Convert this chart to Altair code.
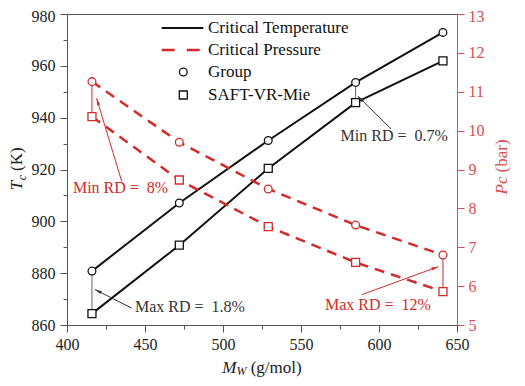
import math
import altair as alt
import pandas as pd

# ---------------- data ----------------
mw = [416, 472, 529, 585, 641]
tc_group = [880.8, 907.1, 931.2, 953.6, 972.9]
tc_saft = [864.4, 890.8, 920.4, 945.8, 961.9]
pc_group = [11.26, 9.70, 8.50, 7.57, 6.80]
pc_saft = [10.36, 8.73, 7.53, 6.61, 5.86]

x_ticks = list(range(400, 651, 25))
tc_ticks = list(range(860, 981, 10))
pc_ticks = [5 + 0.5 * i for i in range(17)]

legend_labels = ["Critical Temperature", "Critical Pressure", "Group", "SAFT-VR-Mie"]

# annotations (data coordinates)
tc_conn_idx = [0, 3]
pc_conn_idx = [0, 4]

tc_notes = ["Max RD =\u00a0\u00a01.8%", "Min RD =\u00a0\u00a00.7%"]
tc_note_x = [443.6, 575.4]
tc_note_y = [867.0, 932.9]
tc_arrow_x = [441.5, 607.7]
tc_arrow_y = [866.5, 935.6]
tc_arrow_x2 = [417.9, 586.5]
tc_arrow_y2 = [873.7, 948.3]

pc_notes = ["Min RD =\u00a0\u00a08%", "Max RD =\u00a0\u00a012%"]
pc_note_x = [403.8, 565.4]
pc_note_y = [8.53, 5.52]
pc_arrow_x = [435.1, 588.9]
pc_arrow_y = [8.69, 5.78]
pc_arrow_x2 = [419.0, 638.0]
pc_arrow_y2 = [10.83, 6.50]

# ---------------- styling ----------------
W, H = 390, 311
BLACK = "#111111"
RED = "#d42a2a"
AXRED = "#d85050"
AXGRAY = "#555555"
FONT = "Liberation Serif, Times New Roman, serif"

xs = alt.Scale(domain=[400, 650], nice=False, zero=False)
ts = alt.Scale(domain=[860, 980], nice=False, zero=False)
ps = alt.Scale(domain=[5, 13], nice=False, zero=False)

xaxis = alt.Axis(
    values=x_ticks, orient="bottom", title=None, grid=False,
    labelExpr="datum.value % 50 == 0 ? datum.label : ''",
    tickSize={"condition": {"test": "datum.value % 50 != 0", "value": 4}, "value": 7},
    domainColor=AXGRAY, tickColor=AXGRAY, labelColor="#222222",
    labelFont=FONT, labelFontSize=16, labelPadding=4, labelFlush=False,
)
tc_axis = alt.Axis(
    values=tc_ticks, orient="left", title=None, grid=False,
    labelExpr="datum.value % 20 == 0 ? datum.label : ''",
    tickSize={"condition": {"test": "datum.value % 20 != 0", "value": 4}, "value": 7},
    labelOffset={"condition": {"test": "datum.value == 980", "value": 2}, "value": 0},
    domainColor=AXGRAY, tickColor=AXGRAY, labelColor="#222222",
    labelFont=FONT, labelFontSize=16, labelPadding=5, labelFlush=False,
)
pc_axis = alt.Axis(
    values=pc_ticks, orient="right", title=None, grid=False, format="d",
    labelExpr="datum.value % 1 == 0 ? datum.label : ''",
    tickSize={"condition": {"test": "datum.value % 1 != 0", "value": 4}, "value": 7},
    labelOffset={"condition": {"test": "datum.value == 13", "value": 2}, "value": 0},
    domainColor=AXRED, tickColor=AXRED, labelColor=AXRED,
    labelFont=FONT, labelFontSize=16, labelPadding=4, labelFlush=False,
)

X = alt.X("mw:Q", scale=xs, axis=xaxis)


def angles(x1, y1, x2, y2, yrange):
    out = []
    for a, b, c, d in zip(x1, y1, x2, y2):
        dx = (c - a) * W / 250.0
        dy = -(d - b) * H / yrange
        out.append(math.degrees(math.atan2(dx, -dy)) % 360)
    return out


# ---------------- frames ----------------
df_tc = pd.DataFrame({"mw": mw * 2, "v": tc_group + tc_saft,
                      "s": ["Group"] * 5 + ["SAFT"] * 5})
df_pc = pd.DataFrame({"mw": mw * 2, "v": pc_group + pc_saft,
                      "s": ["Group"] * 5 + ["SAFT"] * 5})
df_tcg = pd.DataFrame({"mw": mw, "v": tc_group})
df_tcs = pd.DataFrame({"mw": mw, "v": tc_saft})
df_pcg = pd.DataFrame({"mw": mw, "v": pc_group})
df_pcs = pd.DataFrame({"mw": mw, "v": pc_saft})

df_tc_conn = pd.DataFrame({"mw": [mw[i] for i in tc_conn_idx],
                           "v": [tc_group[i] for i in tc_conn_idx],
                           "v2": [tc_saft[i] for i in tc_conn_idx]})
df_pc_conn = pd.DataFrame({"mw": [mw[i] for i in pc_conn_idx],
                           "v": [pc_group[i] for i in pc_conn_idx],
                           "v2": [pc_saft[i] for i in pc_conn_idx]})

df_tc_arrow = pd.DataFrame({"mw": tc_arrow_x, "v": tc_arrow_y, "mw2": tc_arrow_x2, "v2": tc_arrow_y2,
                            "ang": angles(tc_arrow_x, tc_arrow_y, tc_arrow_x2, tc_arrow_y2, 120.0)})
df_pc_arrow = pd.DataFrame({"mw": pc_arrow_x, "v": pc_arrow_y, "mw2": pc_arrow_x2, "v2": pc_arrow_y2,
                            "ang": angles(pc_arrow_x, pc_arrow_y, pc_arrow_x2, pc_arrow_y2, 8.0)})
df_tc_note = pd.DataFrame({"mw": tc_note_x, "v": tc_note_y, "t": tc_notes})
df_pc_note = pd.DataFrame({"mw": pc_note_x, "v": pc_note_y, "t": pc_notes})

one = pd.DataFrame({"a": [0]})


def YT(axis=None):
    return alt.Y("v:Q", scale=ts, axis=axis)


def YP(axis=None):
    return alt.Y("v:Q", scale=ps, axis=axis)


ARROW = "M0,0L0.5,2.2L-0.5,2.2Z"

layers = []
# connectors
layers.append(alt.Chart(df_tc_conn).mark_rule(color="#666666", strokeWidth=1).encode(
    x=X, y=YT(), y2="v2:Q"))
layers.append(alt.Chart(df_pc_conn).mark_rule(color=RED, strokeWidth=1).encode(
    x=X, y=YP(), y2="v2:Q"))
# lines
layers.append(alt.Chart(df_tc).mark_line(color=BLACK, strokeWidth=2).encode(
    x=X, y=YT(tc_axis), detail="s:N"))
layers.append(alt.Chart(df_pc).mark_line(color=RED, strokeWidth=2.5, strokeDash=[10, 7]).encode(
    x=X, y=YP(pc_axis), detail="s:N"))
# arrows
layers.append(alt.Chart(df_tc_arrow).mark_rule(color="#333333", strokeWidth=1).encode(
    x=X, y=YT(), x2="mw2:Q", y2="v2:Q"))
layers.append(alt.Chart(df_pc_arrow).mark_rule(color=RED, strokeWidth=1).encode(
    x=X, y=YP(), x2="mw2:Q", y2="v2:Q"))
# markers
mk = dict(filled=True, fill="white", strokeWidth=1.3, opacity=1, fillOpacity=1)
layers.append(alt.Chart(df_tcg).mark_point(shape="circle", size=60, stroke=BLACK, **mk).encode(x=X, y=YT()))
layers.append(alt.Chart(df_tcs).mark_point(shape="square", size=64, stroke=BLACK, **mk).encode(x=X, y=YT()))
layers.append(alt.Chart(df_pcg).mark_point(shape="circle", size=60, stroke=RED, **mk).encode(x=X, y=YP()))
layers.append(alt.Chart(df_pcs).mark_point(shape="square", size=64, stroke=RED, **mk).encode(x=X, y=YP()))
# arrow heads
layers.append(alt.Chart(df_tc_arrow).mark_point(shape=ARROW, size=40, filled=True, color="#333333", opacity=1).encode(
    x=alt.X("mw2:Q", scale=xs, axis=xaxis), y=alt.Y("v2:Q", scale=ts, axis=None),
    angle=alt.Angle("ang:Q", scale=None)))
layers.append(alt.Chart(df_pc_arrow).mark_point(shape=ARROW, size=40, filled=True, color=RED, opacity=1).encode(
    x=alt.X("mw2:Q", scale=xs, axis=xaxis), y=alt.Y("v2:Q", scale=ps, axis=None),
    angle=alt.Angle("ang:Q", scale=None)))
# annotation texts
layers.append(alt.Chart(df_tc_note).mark_text(align="left", baseline="middle", font=FONT, fontSize=16,
                                              color="#333333").encode(x=X, y=YT(), text="t:N"))
layers.append(alt.Chart(df_pc_note).mark_text(align="left", baseline="middle", font=FONT, fontSize=16,
                                              color=RED).encode(x=X, y=YP(), text="t:N"))

# legend (pixel layout)
layers.append(alt.Chart(one).mark_rule(color=BLACK, strokeWidth=2).encode(
    x=alt.value(94.7), x2=alt.value(136.3), y=alt.value(14)))
layers.append(alt.Chart(one).mark_rule(color=RED, strokeWidth=2.5, strokeDash=[13, 12]).encode(
    x=alt.value(94.7), x2=alt.value(136.3), y=alt.value(36)))
layers.append(alt.Chart(one).mark_point(shape="circle", size=60, stroke=BLACK, **mk).encode(
    x=alt.value(116.3), y=alt.value(58)))
layers.append(alt.Chart(one).mark_point(shape="square", size=64, stroke=BLACK, **mk).encode(
    x=alt.value(116.3), y=alt.value(81)))
for lab, yy in zip(legend_labels, [14, 36, 58, 81]):
    layers.append(alt.Chart(one).mark_text(align="left", baseline="middle", font=FONT, fontSize=17,
                                           color="#111111", text=lab).encode(
        x=alt.value(141), y=alt.value(yy)))

# axis titles (pixel layout)
def ttext(txt, x, y, size=17, style="normal", color="#222222", angle=0, baseline="middle"):
    kw = dict(align="center", baseline=baseline, font=FONT, fontSize=size, fontStyle=style,
              color=color, text=txt)
    if angle:
        kw["angle"] = angle
    return alt.Chart(one).mark_text(**kw).encode(x=alt.value(x), y=alt.value(y))

layers.append(ttext("T", -50, 171.4, 17, "italic", angle=270))
layers.append(ttext("c", -45, 163.5, 12, "italic", angle=270))
layers.append(ttext("(K)", -50, 145.1, 17, angle=270))
layers.append(ttext("Pc", 435, 171.5, 17, "italic", color=AXRED, angle=270))
layers.append(ttext("(bar)", 435, 141.9, 17, color=AXRED, angle=270))
layers.append(ttext("M", 162.4, 359, 17, "italic", baseline="alphabetic"))
layers.append(ttext("W", 174.4, 361, 12, "italic", baseline="alphabetic"))
layers.append(ttext("(g/mol)", 209.2, 359, 17, baseline="alphabetic"))

chart = alt.layer(*layers).resolve_scale(y="independent").properties(
    width=W, height=H,
    autosize=alt.AutoSizeParams(type="none"),
    padding={"left": 59, "top": 6, "right": 60, "bottom": 53},
).configure_view(stroke=AXGRAY, strokeWidth=1).configure_axis(
    labelFont=FONT, labelFontSize=16
).configure_text(font=FONT)

chart.save("out.html", embed_options={"renderer": "svg", "actions": False})
